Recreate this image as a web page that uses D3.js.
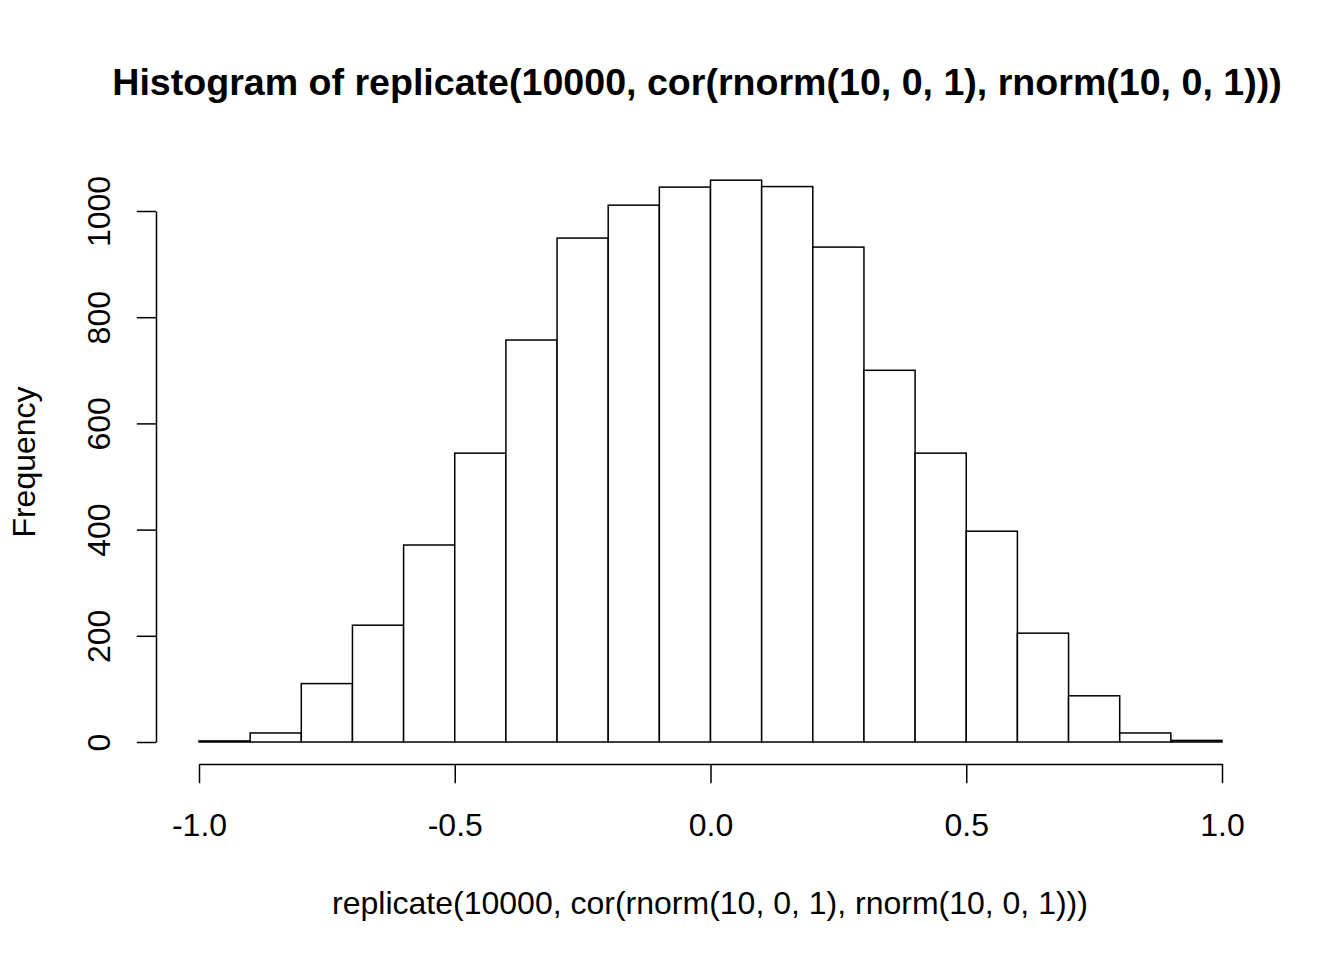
<!DOCTYPE html>
<html>
<head>
<meta charset="utf-8">
<script src="https://cdn.jsdelivr.net/npm/d3@7"></script>
<style>
  html, body { margin: 0; padding: 0; background: #fff; }
  svg { display: block; }
  text { font-family: "Liberation Sans", Arial, Helvetica, sans-serif; fill: #000; }
</style>
</head>
<body>
<svg id="chart" width="1344" height="960"></svg>
<script>
// Histogram data: bin edges and counts
const binStarts = [-1.0, -0.9, -0.8, -0.7, -0.6, -0.5, -0.4, -0.3, -0.2, -0.1,
                   0.0, 0.1, 0.2, 0.3, 0.4, 0.5, 0.6, 0.7, 0.8, 0.9];
const binWidth = 0.1;
const counts = [2, 17, 110, 220, 371, 544, 757, 949, 1011, 1045,
                1058, 1046, 932, 700, 544, 397, 205, 87, 17, 3];
const xTicks = [-1.0, -0.5, 0.0, 0.5, 1.0];
const xTickLabels = ["-1.0", "-0.5", "0.0", "0.5", "1.0"];
const yTicks = [0, 200, 400, 600, 800, 1000];
const titleText = "Histogram of replicate(10000, cor(rnorm(10, 0, 1), rnorm(10, 0, 1)))";
const xLabelText = "replicate(10000, cor(rnorm(10, 0, 1), rnorm(10, 0, 1)))";
const yLabelText = "Frequency";

const svg = d3.select("#chart");

const x = d3.scaleLinear().domain([-1, 1]).range([199, 1222]);
const y = d3.scaleLinear().domain([0, 1000]).range([742, 211]);

// bars
svg.append("g")
  .selectAll("rect")
  .data(binStarts.map((s, i) => ({ s, c: counts[i] })))
  .join("rect")
  .attr("x", d => x(d.s))
  .attr("width", d => x(d.s + binWidth) - x(d.s))
  .attr("y", d => y(d.c))
  .attr("height", d => y(0) - y(d.c))
  .attr("fill", "#fff")
  .attr("stroke", "#000")
  .attr("stroke-width", 1.5);

// x axis
const xAxis = d3.axisBottom(x)
  .tickValues(xTicks)
  .tickFormat((d, i) => xTickLabels[i])
  .tickSize(19.2)
  .tickPadding(30)
  .tickSizeOuter(0);
const gx = svg.append("g").attr("transform", "translate(0,764)").call(xAxis);
gx.select(".domain").attr("stroke", "#000").attr("stroke-width", 1.5);
gx.selectAll(".tick line").attr("stroke", "#000").attr("stroke-width", 1.5);
gx.selectAll(".tick text")
  .attr("font-size", 32)
  .attr("font-family", "Liberation Sans, Arial, sans-serif")
  .attr("fill", "#000");

// y axis
const yAxis = d3.axisLeft(y)
  .tickValues(yTicks)
  .tickFormat(d3.format("d"))
  .tickSize(19.2)
  .tickSizeOuter(0);
const gy = svg.append("g").attr("transform", "translate(156,0)").call(yAxis);
gy.select(".domain").attr("stroke", "#000").attr("stroke-width", 1.5);
gy.selectAll(".tick line").attr("stroke", "#000").attr("stroke-width", 1.5);
gy.selectAll(".tick text")
  .attr("font-size", 32)
  .attr("font-family", "Liberation Sans, Arial, sans-serif")
  .attr("fill", "#000")
  .attr("x", null)
  .attr("dy", null)
  .attr("text-anchor", "middle")
  .attr("transform", "translate(-46,0) rotate(-90)");

// title
svg.append("text")
  .attr("x", 697)
  .attr("y", 95)
  .attr("text-anchor", "middle")
  .attr("font-size", 37.6)
  .attr("font-weight", "bold")
  .text(titleText);

// x label
svg.append("text")
  .attr("x", 710)
  .attr("y", 914)
  .attr("text-anchor", "middle")
  .attr("font-size", 32)
  .text(xLabelText);

// y label
svg.append("text")
  .attr("transform", "translate(35,462) rotate(-90)")
  .attr("text-anchor", "middle")
  .attr("font-size", 32)
  .text(yLabelText);
</script>
</body>
</html>
